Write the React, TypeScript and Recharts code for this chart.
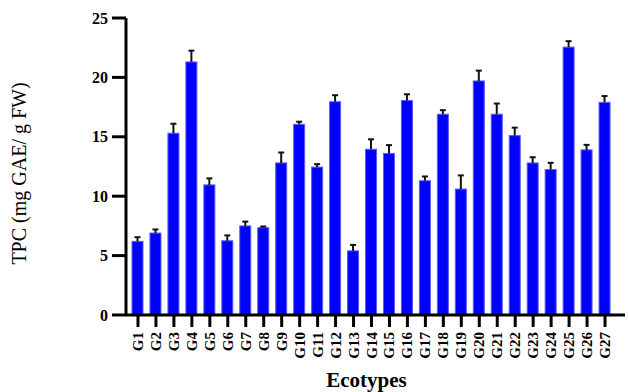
import React from 'react';
import { BarChart, Bar, XAxis, YAxis, Label } from 'recharts';

// ecotype names and measured TPC (mean + SD)
const ecotypes = [
  'G1', 'G2', 'G3', 'G4', 'G5', 'G6', 'G7', 'G8', 'G9', 'G10', 'G11', 'G12', 'G13', 'G14',
  'G15', 'G16', 'G17', 'G18', 'G19', 'G20', 'G21', 'G22', 'G23', 'G24', 'G25', 'G26', 'G27',
];
const tpcMean = [
  6.2, 6.9, 15.3, 21.3, 10.95, 6.25, 7.5, 7.35, 12.8, 16.05, 12.45, 17.95, 5.4, 13.95,
  13.6, 18.05, 11.3, 16.9, 10.6, 19.7, 16.9, 15.1, 12.8, 12.25, 22.55, 13.9, 17.9,
];
const tpcSd = [
  0.35, 0.3, 0.8, 0.95, 0.55, 0.45, 0.36, 0.1, 0.88, 0.22, 0.25, 0.55, 0.5, 0.84,
  0.7, 0.53, 0.36, 0.34, 1.15, 0.87, 0.9, 0.67, 0.48, 0.56, 0.5, 0.42, 0.53,
];
const yTicks = [0, 5, 10, 15, 20, 25];

const data = ecotypes.map((name, i) => ({ name, tpc: tpcMean[i], sd: tpcSd[i] }));

const SERIF = "'Liberation Serif', 'Times New Roman', serif";

// bar with only the upper half of the SD whisker (lower half hidden behind the bar in the original)
const BarWithError = (props: any) => {
  const { x, y, width, height, payload } = props;
  const pxPerUnit = height / payload.tpc;
  const errTop = y - payload.sd * pxPerUnit;
  const cx = x + width / 2;
  return (
    <g>
      <rect x={x} y={y} width={width} height={height} fill="#0000ff" stroke="#5a5aff" strokeWidth={1} />
      <line x1={cx} y1={y} x2={cx} y2={errTop} stroke="#111" strokeWidth={2} />
      <line x1={cx - 3} y1={errTop} x2={cx + 3} y2={errTop} stroke="#111" strokeWidth={2} />
    </g>
  );
};

const XTick = (props: any) => {
  const { x, y, payload } = props;
  return (
    <text
      x={x}
      y={y + 2}
      transform={`rotate(-90, ${x}, ${y + 2})`}
      textAnchor="end"
      dominantBaseline="central"
      style={{ fontFamily: SERIF, fontWeight: 'bold', fontSize: 15, fill: '#000' }}
    >
      {payload.value}
    </text>
  );
};

const YTick = (props: any) => {
  const { x, y, payload } = props;
  return (
    <text
      x={x}
      y={y}
      textAnchor="end"
      dominantBaseline="central"
      style={{ fontFamily: SERIF, fontWeight: 'bold', fontSize: 16, fill: '#000' }}
    >
      {payload.value}
    </text>
  );
};

export default function App() {
  return (
    <div style={{ position: 'absolute', left: 0, top: 0, background: '#fff' }}>
      <BarChart
        width={628}
        height={392}
        data={data}
        margin={{ top: 18, right: 3, bottom: 0, left: 0 }}
        barCategoryGap={0}
      >
        <XAxis
          dataKey="name"
          height={77}
          interval={0}
          padding={{ left: 3, right: 11 }}
          axisLine={{ stroke: '#000', strokeWidth: 3 }}
          tickLine={{ stroke: '#000', strokeWidth: 3 }}
          tickSize={12}
          tickMargin={3}
          tick={<XTick />}
        >
          <Label
            value="Ecotypes"
            position="insideBottom"
            offset={5}
            dx={-9}
            style={{ fontFamily: SERIF, fontWeight: 'bold', fontSize: 21, fill: '#000' }}
          />
        </XAxis>
        <YAxis
          width={126}
          domain={[0, 25]}
          ticks={yTicks}
          interval={0}
          axisLine={{ stroke: '#000', strokeWidth: 3 }}
          tickLine={{ stroke: '#000', strokeWidth: 3 }}
          tickSize={14}
          tickMargin={4}
          tick={<YTick />}
        >
          <Label
            value="TPC (mg GAE/ g FW)"
            angle={-90}
            position="insideLeft"
            offset={19}
            dy={7}
            style={{ fontFamily: SERIF, fontSize: 20, fill: '#000', textAnchor: 'middle' }}
          />
        </YAxis>
        <Bar dataKey="tpc" barSize={11} shape={<BarWithError />} isAnimationActive={false} />
      </BarChart>
    </div>
  );
}
